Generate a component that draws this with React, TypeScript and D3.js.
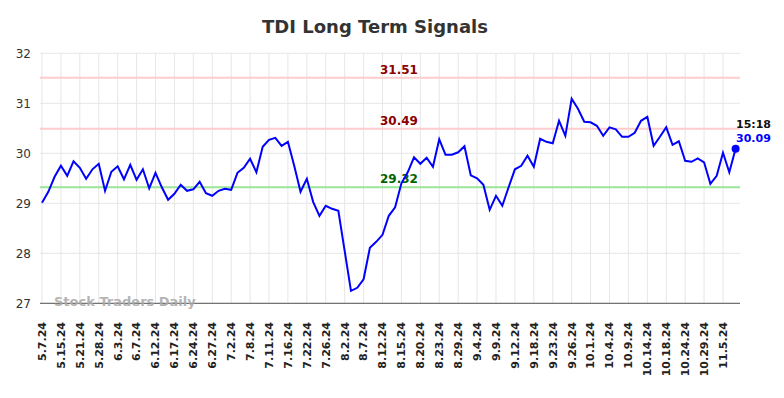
import React from "react";
import * as d3 from "d3";

// closing prices, one every label step of 1/3
const prices = [
  29.01, 29.23, 29.53, 29.75, 29.55, 29.84, 29.71, 29.49, 29.68, 29.79,
  29.25, 29.63, 29.74, 29.48, 29.77, 29.47, 29.68, 29.3, 29.61, 29.32,
  29.07, 29.19, 29.37, 29.25, 29.28, 29.43, 29.2, 29.15, 29.25, 29.29,
  29.27, 29.61, 29.71, 29.89, 29.62, 30.13, 30.27, 30.31, 30.15, 30.23,
  29.75, 29.23, 29.49, 29.03, 28.75, 28.95, 28.89, 28.85, 28.05, 27.25,
  27.31, 27.48, 28.11, 28.23, 28.37, 28.75, 28.92, 29.4, 29.62, 29.92,
  29.79, 29.91, 29.73, 30.28, 29.97, 29.97, 30.02, 30.14, 29.56, 29.5,
  29.37, 28.87, 29.15, 28.95, 29.32, 29.68, 29.75, 29.95, 29.73, 30.29,
  30.23, 30.2, 30.65, 30.35, 31.09, 30.89, 30.63, 30.62, 30.55, 30.35,
  30.52, 30.48, 30.33, 30.33, 30.41, 30.65, 30.73, 30.15, 30.33, 30.52,
  30.17, 30.24, 29.85, 29.83, 29.9, 29.82, 29.39, 29.55, 30.01, 29.62,
  30.09,
];

const dateLabels = [
  "5.7.24", "5.15.24", "5.21.24", "5.28.24", "6.3.24", "6.7.24", "6.12.24",
  "6.17.24", "6.24.24", "6.27.24", "7.2.24", "7.8.24", "7.11.24", "7.16.24",
  "7.22.24", "7.26.24", "8.2.24", "8.7.24", "8.12.24", "8.15.24", "8.20.24",
  "8.23.24", "8.29.24", "9.4.24", "9.9.24", "9.12.24", "9.18.24", "9.23.24",
  "9.26.24", "10.1.24", "10.4.24", "10.9.24", "10.14.24", "10.18.24",
  "10.24.24", "10.29.24", "11.5.24",
];
const labelStep = 3;

const yTicks = [27, 28, 29, 30, 31, 32];

const levels = [
  { value: 31.51, line: "#ffcccc", text: "#8b0000" },
  { value: 30.49, line: "#ffcccc", text: "#8b0000" },
  { value: 29.32, line: "#99e699", text: "#006400" },
];

const lastTime = "15:18";

const W = 784;
const H = 398;
const font = "'DejaVu Sans', sans-serif";

export default function App() {
  const left = 40;
  const right = 740;
  const top = 53.3;
  const bottom = 303.3;

  const x = d3
    .scaleLinear()
    .domain([0, prices.length - 1])
    .range([42, 735.6]);
  const y = d3.scaleLinear().domain([27, 32]).range([bottom, top]);

  const line = d3
    .line<number>()
    .x((d, i) => x(i))
    .y(d => y(d));

  const last = prices.length - 1;
  const levelX = 399;

  return (
    <svg
      width={W}
      height={H}
      style={{ position: "absolute", left: 0, top: 0, background: "#fff" }}
      fontFamily={font}
    >
      <text
        x={375}
        y={33}
        textAnchor="middle"
        fontSize={18}
        fontWeight="bold"
        fill="#333"
      >
        TDI Long Term Signals
      </text>

      {/* grid */}
      {dateLabels.map((d, k) => (
        <line
          key={"v" + k}
          x1={x(k * labelStep)}
          x2={x(k * labelStep)}
          y1={top}
          y2={bottom}
          stroke="#e6e6e6"
          strokeWidth={1}
        />
      ))}
      {yTicks.map(t => (
        <line
          key={"h" + t}
          x1={left}
          x2={right}
          y1={y(t)}
          y2={y(t)}
          stroke="#e6e6e6"
          strokeWidth={1}
        />
      ))}
      <line x1={left} x2={right} y1={bottom} y2={bottom} stroke="#555" strokeWidth={1} />

      {/* y labels */}
      {yTicks.map(t => (
        <text
          key={"yl" + t}
          x={31}
          y={y(t)}
          dy="0.35em"
          textAnchor="end"
          fontSize={12}
          fill="#333"
        >
          {t}
        </text>
      ))}

      {/* x labels */}
      {dateLabels.map((d, k) => (
        <text
          key={"xl" + k}
          transform={`translate(${x(k * labelStep)},322) rotate(-90)`}
          dy="0.35em"
          textAnchor="end"
          fontSize={11}
          fontWeight="bold"
          fill="#222"
        >
          {d}
        </text>
      ))}

      {/* signal levels */}
      {levels.map(l => (
        <g key={"lv" + l.value}>
          <line
            x1={left}
            x2={right}
            y1={y(l.value)}
            y2={y(l.value)}
            stroke={l.line}
            strokeWidth={2}
          />
          <text
            x={levelX}
            y={y(l.value) - 4}
            textAnchor="middle"
            fontSize={12}
            fontWeight="bold"
            fill={l.text}
          >
            {l.value.toFixed(2)}
          </text>
        </g>
      ))}

      <text x={54} y={306} fontSize={13} fontWeight="bold" fill="#aaa" fillOpacity={0.9}>
        Stock Traders Daily
      </text>

      <path d={line(prices) || ""} fill="none" stroke="#0000ff" strokeWidth={2} />
      <circle cx={x(last)} cy={y(prices[last])} r={4} fill="#0000ff" />

      <text x={736} y={128} fontSize={11} fontWeight="bold" fill="#111">
        {lastTime}
      </text>
      <text x={736} y={142} fontSize={11} fontWeight="bold" fill="#0000ff">
        {prices[last].toFixed(2)}
      </text>
    </svg>
  );
}
